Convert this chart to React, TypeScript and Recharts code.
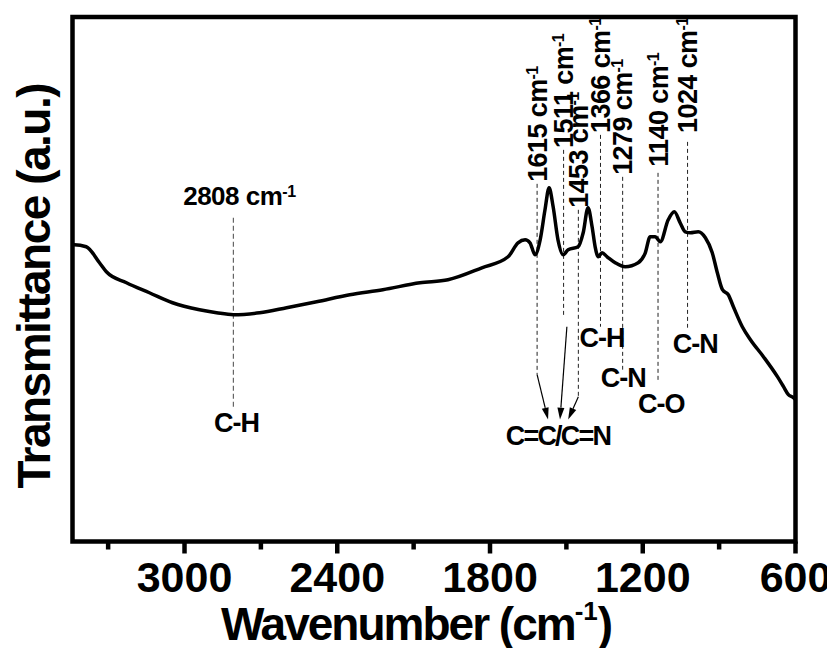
import { LineChart, Line, XAxis, YAxis, ReferenceLine, ReferenceArea, ReferenceDot } from 'recharts';

// FTIR spectrum (transmittance in arbitrary units)
const wavenumber = [
  3440, 3433, 3386, 3334, 3307, 3228, 3138, 3047, 2941, 2874, 2808, 2705, 2599, 2481, 2351, 2221,
  2075, 1965, 1832, 1729, 1690, 1662, 1643, 1623, 1603, 1584, 1568, 1552, 1533, 1513, 1493, 1454,
  1434, 1415, 1399, 1387, 1375, 1360, 1340, 1308, 1269, 1218, 1190, 1171, 1151, 1131, 1100, 1076,
  1053, 1033, 1013, 982, 954, 927, 907, 887, 864, 844, 809, 777, 726, 671, 647, 628, 608, 600,
];
const transmittance = [
  297, 297, 295, 279, 270, 259, 249, 239, 232, 229, 227, 229, 234, 240, 247, 252,
  259, 262, 274, 285, 299, 302, 299, 287, 302, 332, 354, 335, 302, 287, 292, 295,
  309, 334, 315, 295, 285, 289, 285, 279, 275, 279, 289, 305, 305, 300, 322, 330,
  319, 310, 309, 310, 304, 289, 269, 252, 247, 235, 215, 202, 185, 165, 155, 147, 144, 142,
];

const xTicks = [3300, 3000, 2700, 2400, 2100, 1800, 1500, 1200, 900, 600];
const majorTicks = [3000, 2400, 1800, 1200, 600];

// peak labels (rotated) and their dashed guide lines
const peakNames = ['1615', '1511', '1453', '1366', '1279', '1140', '1024'];
const peakPos = [1615, 1511, 1453, 1366, 1279, 1140, 1024];
const peakLabelY = [360, 394, 334, 409, 367, 375, 409];
const peakLineTop = [358, 392, 332, 407, 365, 369, 400];
const peakLineBottom = [167, 224, 145, 215, 172, 159, 214];

// bond assignments
const bondNames = ['C-H', 'C-H', 'C-N', 'C-O', 'C-N', 'C=C/C=N'];
const bondPos = [2796, 1360, 1277, 1127, 994, 1533];
const bondY = [110, 195, 155, 129, 189, 97];

// arrows to C=C/C=N
const arrowFromX = [1615, 1498, 1453];
const arrowFromY = [167, 215, 145];
const arrowToX = [1572, 1525, 1493];
const arrowToY = [122, 122, 122];

const data = wavenumber.map((wn, i) => ({ wn, t: transmittance[i] }));

const FONT = '"Liberation Sans", Arial, Helvetica, sans-serif';

const WnTick = (props: any) => {
  const { x, y, payload } = props;
  const major = majorTicks.includes(payload.value);
  return (
    <g>
      <line x1={x} y1={y} x2={x} y2={y + (major ? 12 : 8)} stroke="#000" strokeWidth={4.5} />
      {major && (
        <text x={x} y={y + 50} textAnchor="middle" fontFamily={FONT} fontWeight="bold" fontSize={43} fill="#000">
          {payload.value}
        </text>
      )}
    </g>
  );
};

const XTitle = (props: any) => {
  const { x, y, width } = props.viewBox;
  return (
    <text x={x + width / 2 - 18} y={y + 98.5} textAnchor="middle" fontFamily={FONT} fontWeight="bold"
      fontSize={46} letterSpacing={-2} fill="#000">
      <tspan>Wavenumber (cm</tspan>
      <tspan fontSize={26} dy={-20} letterSpacing={0}>-1</tspan>
      <tspan dy={20}>)</tspan>
    </text>
  );
};

const YTitle = (props: any) => {
  const { x, y, height } = props.viewBox;
  const cx = x + 42;
  const cy = y + height / 2 + 7;
  return (
    <text x={cx} y={cy} transform={`rotate(-90, ${cx}, ${cy})`} textAnchor="middle" fontFamily={FONT}
      fontWeight="bold" fontSize={46} letterSpacing={-1.5} fill="#000">
      Transmittance (a.u.)
    </text>
  );
};

const arrowShape = (props: any) => {
  const { x1, y1, x2, y2 } = props;
  const ang = Math.atan2(y2 - y1, x2 - x1);
  const len = 12;
  const half = 3.5;
  const bx = x2 - len * Math.cos(ang);
  const by = y2 - len * Math.sin(ang);
  const px = -Math.sin(ang) * half;
  const py = Math.cos(ang) * half;
  return (
    <g>
      <line x1={x1} y1={y1} x2={bx} y2={by} stroke="#000" strokeWidth={1.2} />
      <polygon points={`${x2},${y2} ${bx + px},${by + py} ${bx - px},${by - py}`} fill="#000" />
    </g>
  );
};

export default function App() {
  return (
    <div>
      <style>{`svg.recharts-surface { overflow: visible; }`}</style>
      <LineChart width={820} height={640} data={data} margin={{ top: 9, right: 32.5, left: 0, bottom: 0 }}>
        <XAxis
          dataKey="wn"
          type="number"
          domain={[600, 3440]}
          reversed
          ticks={xTicks}
          interval={0}
          allowDataOverflow
          tickSize={0}
          tickMargin={0}
          tickLine={false}
          axisLine={false}
          tick={<WnTick />}
          height={106.5}
          label={{ content: <XTitle /> }}
        />
        <YAxis
          type="number"
          domain={[0, 525]}
          allowDataOverflow
          width={64.5}
          axisLine={false}
          tickLine={false}
          tick={false}
          label={{ content: <YTitle /> }}
        />
        <ReferenceArea x1={3440} x2={600} y1={0} y2={525} fill="none" stroke="#000" strokeWidth={4.5}
          fillOpacity={0} ifOverflow="visible" />

        <ReferenceLine segment={[{ x: 2808, y: 324 }, { x: 2808, y: 132 }]} stroke="#666" strokeWidth={1.2}
          strokeDasharray="5 3" ifOverflow="visible" />
        <ReferenceDot x={2808} y={337} r={0} ifOverflow="visible"
          shape={(p: any) => (
            <text x={p.cx + 6} y={p.cy} textAnchor="middle" fontFamily={FONT} fontWeight="bold" fontSize={26}
              letterSpacing={-0.5} fill="#000">
              <tspan>2808 cm</tspan>
              <tspan fontSize={16} dy={-8}>-1</tspan>
            </text>
          )} />

        {peakPos.map((wn, i) => (
          <ReferenceLine key={`pl${i}`} segment={[{ x: wn, y: peakLineTop[i] }, { x: wn, y: peakLineBottom[i] }]}
            stroke="#222" strokeWidth={1} strokeDasharray="4 3" ifOverflow="visible" />
        ))}
        {peakPos.map((wn, i) => (
          <ReferenceDot key={`pt${i}`} x={wn} y={peakLabelY[i]} r={0} ifOverflow="visible"
            shape={(p: any) => (
              <text x={p.cx} y={p.cy} dy="0.36em" transform={`rotate(-90, ${p.cx}, ${p.cy})`} textAnchor="start"
                fontFamily={FONT} fontWeight="bold" fontSize={27} letterSpacing={-0.6} fill="#000">
                <tspan>{peakNames[i]} cm</tspan>
                <tspan fontSize={16} dy={-9}>-1</tspan>
              </text>
            )} />
        ))}

        {arrowFromX.map((wn, i) => (
          <ReferenceLine key={`ar${i}`} segment={[{ x: wn, y: arrowFromY[i] }, { x: arrowToX[i], y: arrowToY[i] }]}
            ifOverflow="visible" shape={arrowShape} />
        ))}

        {bondPos.map((wn, i) => (
          <ReferenceDot key={`bd${i}`} x={wn} y={bondY[i]} r={0} ifOverflow="visible"
            shape={(p: any) => (
              <text x={p.cx} y={p.cy} textAnchor="middle" fontFamily={FONT} fontWeight="bold" fontSize={27}
                letterSpacing={bondNames[i].length > 3 ? -1.8 : -1} fill="#000">
                {bondNames[i]}
              </text>
            )} />
        ))}

        <Line type="monotone" dataKey="t" stroke="#000" strokeWidth={3.5} dot={false} activeDot={false}
          isAnimationActive={false} />
      </LineChart>
    </div>
  );
}
